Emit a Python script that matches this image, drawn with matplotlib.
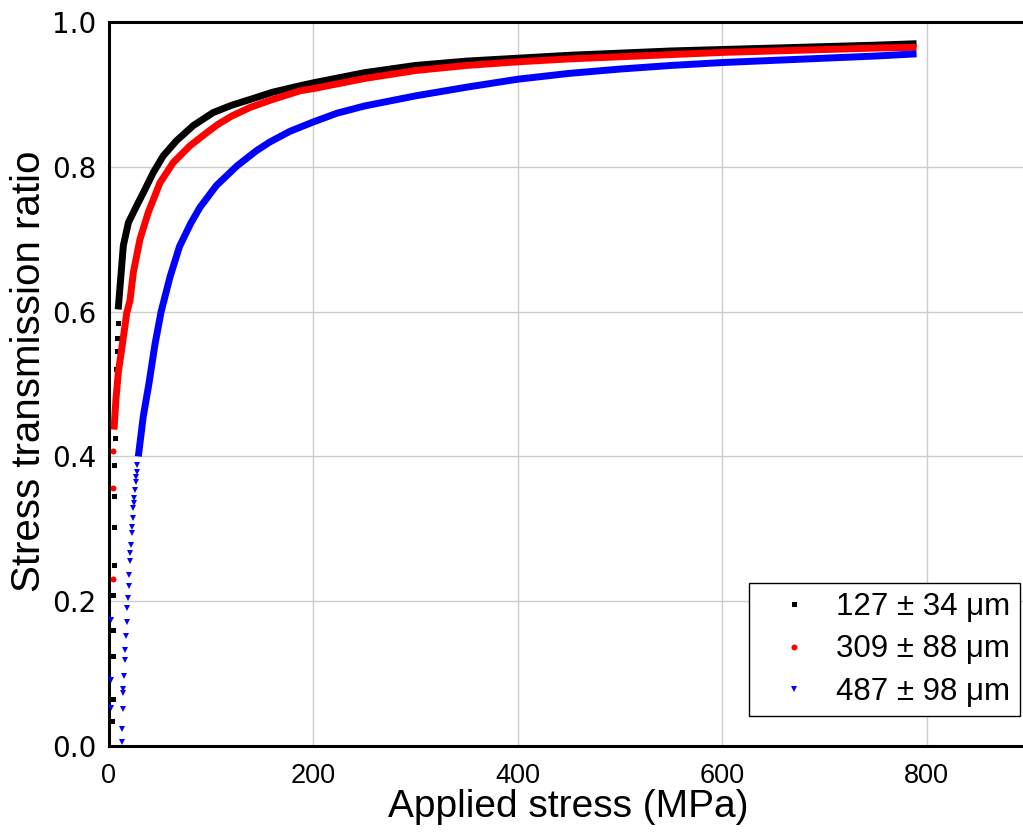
import matplotlib
matplotlib.use("Agg")
import matplotlib.pyplot as plt
import numpy as np

# ---- data ----
labels = ["127 \u00b1 34 \u03bcm", "309 \u00b1 88 \u03bcm", "487 \u00b1 98 \u03bcm"]

stress_127 = [3.3, 3.5, 3.8, 4.0, 4.3, 4.5, 4.8, 5.0, 5.3, 5.5, 6.5, 7.0, 7.5, 8.0, 8.5,
              9.0, 11.4, 14.0, 19.0, 27.0, 33.5, 43.3, 53.0, 66.0, 82.5, 102, 120, 138, 160,
              187, 200, 250, 300, 350, 400, 450, 500, 550, 600, 650, 700, 750, 790]
ratio_127 = [0.034, 0.065, 0.125, 0.160, 0.209, 0.250, 0.303, 0.345, 0.388, 0.425, 0.494,
             0.521, 0.545, 0.563, 0.584,
             0.603, 0.645, 0.691, 0.723, 0.746, 0.764, 0.792, 0.815, 0.836, 0.857, 0.875,
             0.885, 0.893, 0.903, 0.912, 0.916, 0.930, 0.940, 0.946, 0.950, 0.954, 0.957,
             0.960, 0.962, 0.964, 0.966, 0.968, 0.970]

stress_309 = [4.0, 4.2, 4.3,
              4.9, 6.8, 9.1, 12.4, 15.6, 17.3, 20.5, 23.8, 30.3, 38.4, 49.9, 62.9, 79.2,
              95.5, 107, 120, 138, 160, 187, 200, 250, 300, 350, 400, 450, 500, 550, 600,
              650, 700, 750, 790]
ratio_309 = [0.230, 0.356, 0.407,
             0.437, 0.479, 0.516, 0.548, 0.580, 0.598, 0.615, 0.654, 0.700, 0.737, 0.778,
             0.806, 0.829, 0.847, 0.859, 0.870, 0.882, 0.893, 0.905, 0.908, 0.922, 0.933,
             0.940, 0.945, 0.949, 0.952, 0.955, 0.958, 0.960, 0.962, 0.964, 0.965]

stress_487 = [2.0, 2.0, 2.0,
              12.4, 12.7, 13.4, 14.0, 14.1, 14.7, 15.4, 15.8, 16.6, 17.2, 17.9, 18.5, 19.2,
              19.6, 20.5, 20.9, 21.3, 22.2, 22.5, 23.0, 23.7, 24.0, 24.4, 25.4, 26.0, 26.4,
              27.0, 27.6,
              28.7, 33.5, 39.0, 45.0, 51.0, 59.7, 69.0, 80.0, 89.0, 105, 125, 144, 157, 177,
              200, 223, 250, 300, 350, 400, 450, 500, 550, 600, 650, 700, 750, 790]
ratio_487 = [0.052, 0.091, 0.174,
             0.006, 0.024, 0.051, 0.073, 0.079, 0.097, 0.119, 0.133, 0.152, 0.171, 0.190,
             0.205, 0.221, 0.236, 0.255, 0.267, 0.278, 0.294, 0.302, 0.315, 0.329, 0.336,
             0.343, 0.354, 0.364, 0.371, 0.379, 0.388,
             0.400, 0.455, 0.500, 0.555, 0.600, 0.648, 0.690, 0.722, 0.744, 0.774, 0.801,
             0.822, 0.834, 0.849, 0.862, 0.874, 0.884, 0.898, 0.910, 0.921, 0.929, 0.935,
             0.940, 0.944, 0.947, 0.950, 0.953, 0.956]

# number of leading points that appear as separate markers (rest forms a dense band)
n_sparse = [15, 3, 31]

x_ticks = [0, 200, 400, 600, 800]
y_ticks = [0.0, 0.2, 0.4, 0.6, 0.8, 1.0]

# ---- figure ----
W, H = 1023, 839
fig = plt.figure(figsize=(W / 100, H / 100), dpi=100)
left, right, bottom, top = 109, 1029, 746, 22
ax = fig.add_axes([left / W, 1 - bottom / H, (right - left) / W, (bottom - top) / H])

sans = ["Liberation Sans", "DejaVu Sans"]

series = [
    (stress_127, ratio_127, "black", "s", 3.6, labels[0], n_sparse[0], 2),
    (stress_309, ratio_309, "red", "o", 4.3, labels[1], n_sparse[1], 3),
    (stress_487, ratio_487, "blue", "v", 5.0, labels[2], n_sparse[2], 4),
]
handles = []
for xs, ys, col, mk, ms, lab, ns, z in series:
    xs = np.asarray(xs, float)
    ys = np.asarray(ys, float)
    h, = ax.plot(xs[:ns], ys[:ns], linestyle="none", marker=mk, markersize=ms,
                 color=col, markeredgewidth=0, label=lab, zorder=z, clip_on=False)
    ax.plot(xs[ns:], ys[ns:], color=col, linewidth=5.0, solid_capstyle="butt",
            solid_joinstyle="round", zorder=z)
    handles.append(h)

ax.set_xlim(0, 900)
ax.set_ylim(0, 1.0)
ax.set_xticks(x_ticks)
ax.set_yticks(y_ticks)
ax.set_yticklabels([f"{v:.1f}" for v in y_ticks])
ax.tick_params(axis="x", length=0, pad=12)
ax.tick_params(axis="y", length=0, pad=9)
for lbl in ax.get_xticklabels():
    lbl.set_family(sans)
    lbl.set_fontsize(19.5)
for lbl in ax.get_yticklabels():
    lbl.set_family(["DejaVu Sans"])
    lbl.set_fontsize(20)

ax.grid(True, color="#cccccc", linewidth=1.0)
ax.set_axisbelow(True)
for s in ["left", "bottom", "top"]:
    ax.spines[s].set_linewidth(2.2)
    ax.spines[s].set_color("black")
ax.spines["right"].set_visible(False)

ax.set_xlabel("Applied stress (MPa)", family=sans, fontsize=28)
ax.set_ylabel("Stress transmission ratio", family=sans, fontsize=29)
ax.xaxis.set_label_coords(0.4995, -0.060)
ax.yaxis.set_label_coords(-0.0665, 0.518)

leg = ax.legend(handles=handles, loc="lower right", bbox_to_anchor=(0.990, 0.041),
                frameon=True, fancybox=False, numpoints=1, handlelength=2.3,
                handletextpad=0.2, borderpad=0.3, labelspacing=0.40,
                prop={"family": sans, "size": 22.5}, borderaxespad=0)
leg.get_frame().set_edgecolor("black")
leg.get_frame().set_linewidth(1.0)
leg.get_frame().set_alpha(1)

fig.savefig("out.png", dpi=100)
